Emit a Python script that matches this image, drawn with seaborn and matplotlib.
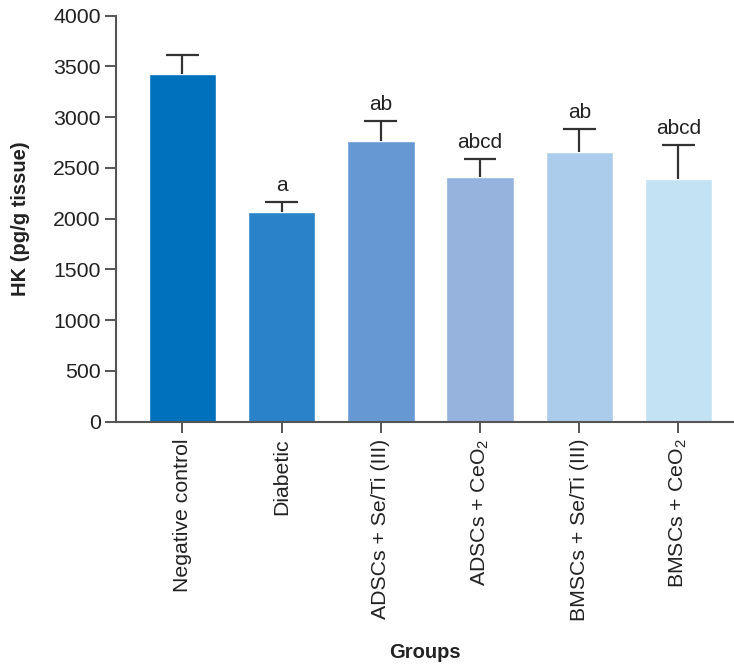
import matplotlib
matplotlib.use("Agg")
import matplotlib.pyplot as plt
import seaborn as sns
import pandas as pd
import numpy as np

# Group names, mean HK values and upper SD
groups = ["Negative control", "Diabetic", "ADSCs + Se/Ti (III)",
          "ADSCs + CeO$_2$", "BMSCs + Se/Ti (III)", "BMSCs + CeO$_2$"]
means = [3430, 2070, 2770, 2410, 2660, 2390]
sds = [180, 90, 190, 180, 225, 340]
letters = ["", "a", "ab", "abcd", "ab", "abcd"]
colors = ["#0071BC", "#2A83C9", "#6699D3", "#95B3DC", "#ABCDEB", "#C3E3F5"]
yticks = [0, 500, 1000, 1500, 2000, 2500, 3000, 3500, 4000]

sns.set_style("ticks")
plt.rcParams["font.family"] = ["Liberation Sans", "DejaVu Sans"]
plt.rcParams["mathtext.default"] = "regular"

df = pd.DataFrame({"group": groups, "hk": means})

fig = plt.figure(figsize=(7.34, 6.64), dpi=100)
ax = fig.add_axes([116 / 734, 1 - 421.7 / 664, 1 - 116 / 734, (421.7 - 15.7) / 664])

sns.barplot(data=df, x="group", y="hk", hue="group", palette=colors,
            order=groups, hue_order=groups, errorbar=None, width=0.68,
            legend=False, ax=ax, saturation=1)

# upper-only error bars: stem from bar top plus a cap at mean + SD
xs = np.arange(len(groups))
tops = np.array(means) + np.array(sds)
cap_half = 0.165
ax.vlines(xs, means, tops, colors="#333333", linewidth=1.6, zorder=3)
ax.hlines(tops, xs - cap_half, xs + cap_half, colors="#333333",
          linewidth=1.6, zorder=3)

for x, t, s in zip(xs, tops, letters):
    if s:
        ax.text(x, t + 70, s, ha="center", va="bottom",
                fontsize=15, color="#222222")

ax.set_xlim(-0.67, 5.56)
ax.set_ylim(0, 4000)
ax.set_yticks(yticks)
ax.set_yticklabels([str(v) for v in yticks])
ax.tick_params(axis="both", length=8, width=1.4, color="#555555",
               labelsize=15.3, labelcolor="#222222", pad=3)
ax.tick_params(axis="x", labelrotation=90, pad=4)
for lab in ax.get_xticklabels():
    lab.set_va("top")

for side in ["top", "right"]:
    ax.spines[side].set_visible(False)
for side in ["left", "bottom"]:
    ax.spines[side].set_color("#555555")
    ax.spines[side].set_linewidth(1.5)

ax.set_ylabel("HK (pg/g tissue)", fontsize=14.5, fontweight="bold",
              color="#222222")
ax.set_xlabel("Groups", fontsize=14.5, fontweight="bold", color="#222222")
ax.yaxis.set_label_coords((30 - 116) / 618, 0.5)
ax.xaxis.set_label_coords(0.5, -(643 - 421.7) / 406)

fig.savefig("out.png", dpi=100)
